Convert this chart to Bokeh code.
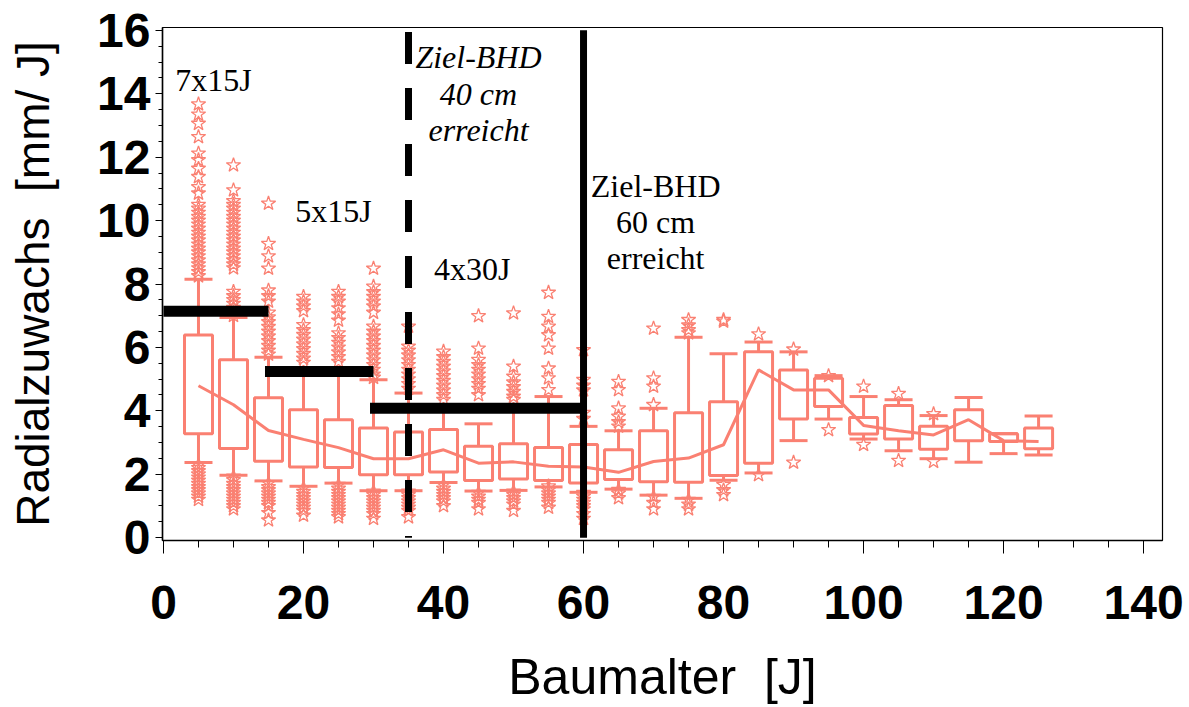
from bokeh.plotting import figure
from bokeh.models import Range1d, FixedTicker
from bokeh.embed import file_html
from bokeh.resources import INLINE
from bokeh.core.properties import value

# ---------------- data ----------------
ages = [5, 10, 15, 20, 25, 30, 35, 40, 45, 50, 55, 60, 65, 70, 75, 80, 85, 90, 95, 100, 105, 110, 115, 120, 125]
q3 = [6.39, 5.61, 4.41, 4.03, 3.72, 3.46, 3.33, 3.41, 2.88, 2.96, 2.84, 2.94, 2.77, 3.37, 3.94, 4.29,
      5.86, 5.29, 5.03, 3.79, 4.17, 3.51, 4.03, 3.28, 3.46]
q1 = [3.28, 2.81, 2.41, 2.23, 2.21, 1.98, 1.98, 2.07, 1.80, 1.85, 1.80, 1.72, 1.83, 1.76, 1.75, 1.96,
      2.35, 3.74, 4.14, 3.27, 3.11, 2.79, 3.06, 3.03, 2.80]
mean_line = [4.79, 4.19, 3.38, 3.10, 2.84, 2.49, 2.49, 2.77, 2.35, 2.39, 2.25, 2.23, 2.06, 2.40, 2.51, 2.93,
             5.29, 4.66, 4.66, 3.54, 3.37, 3.24, 3.72, 3.06, 3.03]
upper_whisker = [8.15, 6.94, 5.69, 5.25, 5.25, 4.98, 4.56, 4.10, 3.59, 4.12, 4.45, 3.51, 3.37, 4.08, 6.32, 5.80,
                 6.17, 5.86, 5.11, 4.45, 4.35, 3.85, 4.42, 3.28, 3.84]
lower_whisker = [2.37, 1.97, 1.79, 1.62, 1.72, 1.48, 1.48, 1.74, 1.47, 1.49, 1.60, 1.43, 1.53, 1.34, 1.24, 1.81,
                 2.04, 3.06, 3.74, 3.11, 2.74, 2.49, 2.38, 2.65, 2.61]

outliers_hi = [
    [13.67, 13.35, 13.06, 12.64, 12.12, 11.91, 11.64, 11.38, 11.06, 10.86, 10.5, 10.38, 10.25, 10.12, 10.0,
     9.88, 9.75, 9.62, 9.5, 9.38, 9.25, 9.12, 9.0, 8.88, 8.75, 8.62, 8.5, 8.38, 8.25],
    [11.75, 10.96, 10.62, 10.5, 10.38, 10.25, 10.12, 10.0, 9.88, 9.75, 9.62, 9.5, 9.38, 9.25, 9.12, 9.0,
     8.88, 8.75, 8.62, 8.5, 7.76, 7.62, 7.5, 7.38, 7.25, 7.12, 7.0],
    [10.54, 9.27, 8.88, 8.49, 7.8, 7.62, 7.45, 7.1, 6.95, 6.8, 6.65, 6.5, 6.35, 6.2, 6.05, 5.9, 5.78],
    [7.6, 7.45, 7.3, 7.15, 6.71, 6.55, 6.4, 6.25, 6.1, 5.95, 5.8, 5.65, 5.52],
    [7.76, 7.6, 7.45, 7.24, 7.05, 6.85, 6.45, 6.3, 6.15, 6.0, 5.85, 5.7, 5.55],
    [8.49, 7.92, 7.75, 7.6, 7.45, 7.3, 7.1, 6.66, 6.5, 6.35, 6.2, 6.05, 5.9, 5.75, 5.6, 5.45, 5.3, 5.15, 5.05],
    [6.66, 6.03, 5.9, 5.75, 5.6, 5.45, 5.3, 5.15, 5.0, 4.85, 4.7],
    [5.87, 5.7, 5.55, 5.4, 5.25, 5.1, 4.95, 4.8, 4.65, 4.5, 4.35],
    [6.99, 5.97, 5.61, 5.45, 5.3, 5.15, 5.0, 4.85, 4.7, 4.5],
    [7.08, 5.4, 5.08, 4.9, 4.75, 4.6, 4.45, 4.35],
    [7.73, 6.97, 6.66, 6.39, 5.97, 5.34, 5.03, 4.66],
    [5.92, 4.98, 4.8, 4.65, 3.94, 3.75],
    [4.92, 4.66, 4.08, 3.82, 3.65, 3.51],
    [6.6, 5.03, 4.77, 4.19],
    [6.87, 6.7, 6.55, 6.45],
    [6.87, 6.82],
    [6.42], [5.94], [5.1], [4.77], [4.54], [3.9], [], [], [],
]
outliers_lo = [
    [2.3, 2.2, 2.1, 2.0, 1.9, 1.8, 1.7, 1.6, 1.5, 1.4, 1.3, 1.2],
    [1.93, 1.82, 1.7, 1.6, 1.5, 1.4, 1.3, 1.2, 1.1, 1.0, 0.9],
    [1.72, 1.6, 1.5, 1.4, 1.3, 1.2, 1.1, 1.0, 0.78, 0.55],
    [1.57, 1.45, 1.35, 1.25, 1.15, 1.05, 0.95, 0.85, 0.7],
    [1.67, 1.55, 1.45, 1.35, 1.25, 1.15, 1.05, 0.95, 0.85, 0.75, 0.65],
    [1.46, 1.35, 1.25, 1.15, 1.05, 0.95, 0.85, 0.75, 0.6],
    [1.46, 1.35, 1.25, 1.15, 1.05, 0.95, 0.85, 0.65],
    [1.67, 1.55, 1.45, 1.35, 1.25, 1.15, 1.0],
    [1.42, 1.3, 1.2, 1.1, 0.9],
    [1.46, 1.35, 1.25, 1.15, 1.05, 0.85],
    [1.62, 1.5, 1.4, 1.3, 1.2, 1.1, 0.95],
    [1.42, 1.3, 1.2, 1.1, 1.0, 0.9, 0.75, 0.6],
    [1.51, 1.4, 1.25],
    [1.29, 1.1, 0.9],
    [1.2, 1.05, 0.9],
    [1.67, 1.5, 1.35],
    [1.98], [2.37], [3.40], [2.93], [2.43], [2.40], [], [], [],
]

# thinning intensity levels (black bars) and target-diameter ages
bar_start = [0, 14.5, 29.5]
bar_end = [15, 30, 60]
bar_level = [7.14, 5.24, 4.08]
target40_age = 35
target60_age = 60

x_ticks = [0, 20, 40, 60, 80, 100, 120, 140]
y_ticks = [0, 2, 4, 6, 8, 10, 12, 14, 16]

SALMON = "#FA8072"
BOX_W = 4.0

# ---------------- figure ----------------
p = figure(width=1189, height=707, output_backend="svg", toolbar_location=None,
           x_range=Range1d(-0.14, 142.7), y_range=Range1d(-0.09, 16.09),
           min_border_left=162, min_border_right=27, min_border_top=27, min_border_bottom=166)
p.grid.visible = False
p.outline_line_color = "black"
p.outline_line_width = 1.2
p.background_fill_color = "white"
p.border_fill_color = "white"

# outliers
ox, oy = [], []
for a, hi, lo in zip(ages, outliers_hi, outliers_lo):
    for v in hi + lo:
        ox.append(a)
        oy.append(v)
p.scatter(ox, oy, marker="star", size=15, fill_alpha=0, line_color=SALMON, line_width=1.3)

# whiskers
p.segment(x0=ages, y0=q3, x1=ages, y1=upper_whisker, line_color=SALMON, line_width=3)
p.segment(x0=ages, y0=q1, x1=ages, y1=lower_whisker, line_color=SALMON, line_width=3)
left = [a - BOX_W / 2 for a in ages]
right = [a + BOX_W / 2 for a in ages]
p.segment(x0=left, y0=upper_whisker, x1=right, y1=upper_whisker, line_color=SALMON, line_width=3)
p.segment(x0=left, y0=lower_whisker, x1=right, y1=lower_whisker, line_color=SALMON, line_width=3)

# boxes
p.quad(left=left, right=right, bottom=q1, top=q3, fill_alpha=0, line_color=SALMON, line_width=3)

# mean line
p.line(ages, mean_line, line_color=SALMON, line_width=3)

# black bars
p.segment(x0=bar_start, y0=bar_level, x1=bar_end, y1=bar_level, line_color="black",
          line_width=11, line_cap="butt")

# vertical target lines
p.line([target40_age, target40_age], [15.95, 0], line_color="black", line_width=7,
       line_dash="32 24", line_cap="butt")
p.line([target60_age, target60_age], [16.0, 0], line_color="black", line_width=7, line_cap="butt")

# annotations
p.text(x=[7.14, 24.3, 44.1], y=[14.43, 10.30, 8.47], text=["7x15J", "5x15J", "4x30J"],
       text_font=value("Liberation Serif"), text_font_size="32px", text_align="center",
       text_baseline="middle", text_color="black")
p.text(x=[45.0, 45.0, 45.0], y=[15.15, 13.98, 12.85], text=["Ziel-BHD", "40 cm", "erreicht"],
       text_font=value("Liberation Serif"), text_font_size="32px", text_font_style="italic",
       text_align="center", text_baseline="middle", text_color="black")
p.text(x=[70.3, 70.3, 70.3], y=[11.09, 9.95, 8.82], text=["Ziel-BHD", "60 cm", "erreicht"],
       text_font=value("Liberation Serif"), text_font_size="32px", text_align="center",
       text_baseline="middle", text_color="black")

# axes
p.xaxis.ticker = FixedTicker(ticks=x_ticks, minor_ticks=list(range(0, 145, 5)))
p.yaxis.ticker = FixedTicker(ticks=y_ticks, minor_ticks=[i * 0.5 for i in range(33)])
for ax in (p.xaxis[0], p.yaxis[0]):
    ax.axis_line_color = "black"
    ax.axis_line_width = 1.5
    ax.major_tick_line_color = "black"
    ax.minor_tick_line_color = "black"
    ax.major_tick_in = 0
    ax.minor_tick_in = 0
    ax.major_label_text_font = "Liberation Sans"
    ax.major_label_text_font_style = "bold"
    ax.major_label_text_font_size = "48px"
    ax.major_label_text_color = "black"
    ax.axis_label_text_font = "Liberation Sans"
    ax.axis_label_text_font_style = "normal"
    ax.axis_label_text_color = "black"

p.xaxis.major_tick_out = 13
p.xaxis.minor_tick_out = 7
p.xaxis.major_label_standoff = 32
p.xaxis.axis_label = "Baumalter\u00a0 [J]"
p.xaxis.axis_label_text_font_size = "50px"
p.xaxis.axis_label_standoff = 27

p.yaxis.major_tick_out = 7
p.yaxis.minor_tick_out = 4
p.yaxis.major_label_standoff = 5
p.yaxis.axis_label = "Radialzuwachs\u00a0 [mm/ J]"
p.yaxis.axis_label_text_font_size = "46px"
p.yaxis.axis_label_standoff = 35

open("out.html", "w").write(file_html(p, INLINE))
